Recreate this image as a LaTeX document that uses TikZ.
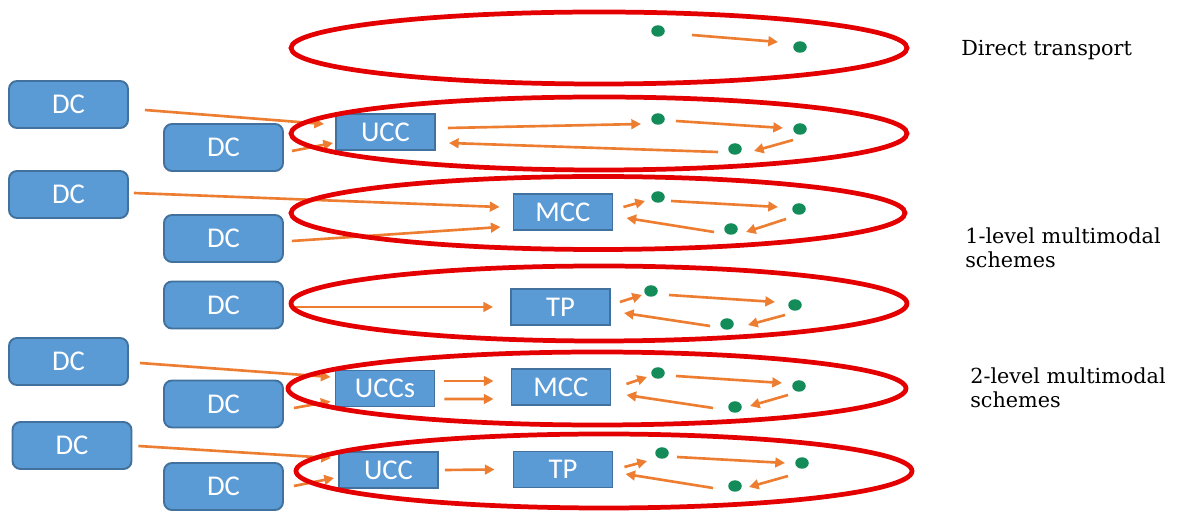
\documentclass[tikz,border=0pt]{standalone}
\usepackage{fontspec}
\usetikzlibrary{calc,arrows.meta,shapes.geometric}
\newfontfamily\boxfont{Carlito}
\newfontfamily\labelfont{DejaVu Serif}
\definecolor{boxfill}{RGB}{91,155,213}
\definecolor{boxedge}{RGB}{65,113,156}
\definecolor{flow}{RGB}{237,125,49}
\definecolor{stop}{RGB}{20,140,90}
\definecolor{ring}{RGB}{228,0,0}
\tikzset{
  dcbox/.style={draw=boxedge,fill=boxfill,line width=1.1pt,rounded corners=0.16cm,
    minimum width=2.38cm,minimum height=0.94cm,inner sep=0pt,
    font=\boxfont\fontsize{16.3}{18}\selectfont,text=white},
  hub/.style={draw=boxedge,fill=boxfill,line width=1.1pt,
    minimum width=1.98cm,minimum height=0.72cm,inner sep=0pt,
    font=\boxfont\fontsize{16.3}{18}\selectfont,text=white},
  stopdot/.style={ellipse,fill=stop,minimum width=0.27cm,minimum height=0.23cm,inner sep=0pt},
  arr/.style={draw=flow,line width=1.5pt,-{Triangle[length=5.5pt,width=5.5pt]}},
  scheme/.style={draw=ring,line width=2.7pt},
  caption/.style={font=\labelfont\fontsize{11.8}{14.2}\selectfont,inner sep=0pt,align=left},
}
\begin{document}
\begin{tikzpicture}[x=0.02cm,y=-0.02cm]
\useasboundingbox (0,0) rectangle (1177,516);

% distribution centres
\node[dcbox] (L1) at (68.5,104.5) {DC};
\node[dcbox] (R1) at (223.5,147.5) {DC};
\node[dcbox] (L2) at (68.5,194.5) {DC};
\node[dcbox] (R2) at (223.5,238.5) {DC};
\node[dcbox] (R3) at (223.5,305) {DC};
\node[dcbox] (L3) at (68.5,361.5) {DC};
\node[dcbox] (R4) at (223.5,404) {DC};
\node[dcbox] (L4) at (72,445.5) {DC};
\node[dcbox] (R5) at (223.5,486.5) {DC};

% consolidation centres and transfer points
\node[hub] (ucc2) at (385.5,132) {UCC};
\node[hub] (mcc3) at (563,212) {MCC};
\node[hub] (tp4) at (560.5,307) {TP};
\node[hub] (ucc5) at (385,388.5) {UCCs};
\node[hub] (mcc5) at (561,387) {MCC};
\node[hub] (ucc6) at (388.5,470) {UCC};
\node[hub] (tp6) at (563,469.5) {TP};

% delivery stops
\node[stopdot] (d11) at (658,31) {};
\node[stopdot] (d12) at (800,47) {};
\node[stopdot] (d21) at (658,119) {};
\node[stopdot] (d22) at (800,129) {};
\node[stopdot] (d23) at (735,149) {};
\node[stopdot] (d31) at (658,197) {};
\node[stopdot] (d32) at (799,209) {};
\node[stopdot] (d33) at (731,229) {};
\node[stopdot] (d41) at (651,291) {};
\node[stopdot] (d42) at (795,305) {};
\node[stopdot] (d43) at (727,324) {};
\node[stopdot] (d51) at (658,373) {};
\node[stopdot] (d52) at (799,386) {};
\node[stopdot] (d53) at (735,407) {};
\node[stopdot] (d61) at (662,453) {};
\node[stopdot] (d62) at (802,463) {};
\node[stopdot] (d63) at (735,486) {};

% feeder flows from the distribution centres
\draw[arr] ($(L1.east)+(16,5.5)$) -- ($(ucc2.west)+(-11,-8)$);
\draw[arr] ($(R1.east)+(8,3.5)$) -- ($(ucc2.west)+(-2,11)$);
\draw[arr] ($(L2.east)+(5,-1.5)$) -- ($(mcc3.west)+(-13,-5)$);
\draw[arr] ($(R2.east)+(8,2.5)$) -- ($(mcc3.west)+(-12,15)$);
\draw[arr] ($(R3.east)+(11,2)$) -- ($(tp4.west)+(-17,0)$);
\draw[arr] ($(L3.east)+(11,1.5)$) -- ($(ucc5.west)+(-4,-11.5)$);
\draw[arr] ($(R4.east)+(10,4)$) -- ($(ucc5.west)+(-4,13)$);
\draw[arr] ($(L4.east)+(6,0.5)$) -- ($(ucc6.west)+(-7,-12)$);
\draw[arr] ($(R5.east)+(10,-0.5)$) -- ($(ucc6.west)+(-4,8)$);

% hub to hub
\draw[arr] ($(ucc5.east)+(9,-7.5)$) -- ($(mcc5.west)+(-17,-6)$);
\draw[arr] ($(ucc5.east)+(9,10.5)$) -- ($(mcc5.west)+(-17,12)$);
\draw[arr] ($(ucc6.east)+(6,0)$) -- ($(tp6.west)+(-18,0)$);

% direct transport
\draw[arr] ($(d11)+(34,4)$) -- ($(d12)+(-22,-5)$);

% delivery rounds
\draw[arr] ($(ucc2.east)+(12,-4)$) -- ($(d21)+(-17,5)$);
\draw[arr] ($(d21)+(18,2)$) -- ($(d22)+(-17,-1)$);
\draw[arr] ($(d22)+(-7,11)$) -- ($(d23)+(19,2)$);
\draw[arr] ($(d23)+(-17,3)$) -- ($(ucc2.east)+(13,11)$);

\draw[arr] ($(mcc3.east)+(10,-5)$) -- ($(d31)+(-13,4)$);
\draw[arr] ($(d31)+(13,4)$) -- ($(d32)+(-21,-2)$);
\draw[arr] ($(d32)+(-13,10)$) -- ($(d33)+(15,3)$);
\draw[arr] ($(d33)+(-17,3)$) -- ($(mcc3.east)+(13,6)$);

\draw[arr] ($(tp4.east)+(9,-5)$) -- ($(d41)+(-9,4)$);
\draw[arr] ($(d41)+(18,4)$) -- ($(d42)+(-20,-3)$);
\draw[arr] ($(d42)+(-10,10)$) -- ($(d43)+(21,1)$);
\draw[arr] ($(d43)+(-17,2)$) -- ($(tp4.east)+(13,6)$);

\draw[arr] ($(mcc5.east)+(15,-3)$) -- ($(d51)+(-11,4)$);
\draw[arr] ($(d51)+(18,3)$) -- ($(d52)+(-17,-3)$);
\draw[arr] ($(d52)+(-11,9)$) -- ($(d53)+(15,-1)$);
\draw[arr] ($(d53)+(-22,1)$) -- ($(mcc5.east)+(15,8)$);

\draw[arr] ($(tp6.east)+(11,-2.5)$) -- ($(d61)+(-15,8)$);
\draw[arr] ($(d61)+(15,4)$) -- ($(d62)+(-17,0)$);
\draw[arr] ($(d62)+(-14,13)$) -- ($(d63)+(14,1)$);
\draw[arr] ($(d63)+(-22,2)$) -- ($(tp6.east)+(12,4.5)$);

% scheme outlines
\draw[scheme] (599,48) ellipse [x radius=308, y radius=36];
\draw[scheme] (599,133.5) ellipse [x radius=308, y radius=36.5];
\draw[scheme] (598,213) ellipse [x radius=307, y radius=36.5];
\draw[scheme] (599,303.5) ellipse [x radius=308, y radius=37.5];
\draw[scheme] (597,388.5) ellipse [x radius=309, y radius=36.5];
\draw[scheme] (604,471) ellipse [x radius=308, y radius=37];

% scheme captions (the base anchor of a two-line caption sits on its last line)
\node[caption,anchor=base west] (cap1) at (961,56) {Direct transport};
\node[caption,anchor=base west] (cap2) at (965,268) {1-level multimodal\\schemes};
\node[caption,anchor=base west] (cap3) at (970,408) {2-level multimodal\\schemes};
\end{tikzpicture}
\end{document}
